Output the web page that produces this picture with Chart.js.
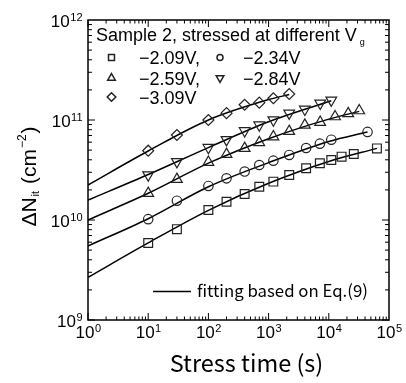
<!DOCTYPE html>
<html>
<head>
<meta charset="utf-8">
<script src="https://cdn.jsdelivr.net/npm/chart.js@4.4.1/dist/chart.umd.min.js"></script>
<style>
  body { margin: 0; background: #fff; }
</style>
</head>
<body>
<canvas id="chart" width="406" height="383"></canvas>
<script>
// measured interface traps, stress time (s) vs dNit (cm^-2)
const t209 = [10, 30, 100, 200, 400, 700, 1200, 2200, 4200, 7100, 11000, 16300, 26000, 63000];
const n209 = [5.9e9, 8.1e9, 1.26e10, 1.52e10, 1.82e10, 2.15e10, 2.42e10, 2.82e10, 3.29e10, 3.69e10, 3.98e10, 4.3e10, 4.58e10, 5.2e10];

const t234 = [10, 30, 100, 200, 400, 700, 1200, 2200, 4200, 7100, 11000, 44000];
const n234 = [1.02e10, 1.56e10, 2.19e10, 2.61e10, 3.05e10, 3.55e10, 3.92e10, 4.47e10, 5.25e10, 5.8e10, 6.35e10, 7.6e10];

const t259 = [10, 30, 100, 200, 400, 700, 1200, 2200, 4000, 7200, 12700, 21000, 32000];
const n259 = [1.85e10, 2.55e10, 3.78e10, 4.54e10, 5.21e10, 5.95e10, 6.8e10, 7.7e10, 8.9e10, 9.5e10, 1.08e11, 1.16e11, 1.24e11];

const t284 = [10, 30, 100, 200, 400, 700, 1200, 2200, 4000, 7200, 11000];
const n284 = [2.82e10, 3.83e10, 5.3e10, 6.35e10, 7.8e10, 8.9e10, 1.0e11, 1.17e11, 1.28e11, 1.47e11, 1.58e11];

const t309 = [10, 30, 100, 200, 400, 700, 1200, 2200];
const n309 = [4.93e10, 7.08e10, 1.0e11, 1.17e11, 1.42e11, 1.49e11, 1.65e11, 1.82e11];

// fitted curves (Eq.9)
const fitT209 = [1, 10, 100, 1000, 10000, 63000];
const fitN209 = [2.67e9, 5.9e9, 1.25e10, 2.33e10, 3.85e10, 5.2e10];
const fitT234 = [1, 10, 100, 1000, 10000, 44000];
const fitN234 = [5.5e9, 1.03e10, 2.15e10, 3.75e10, 6.1e10, 7.6e10];
const fitT259 = [1, 10, 100, 1000, 10000, 32000];
const fitN259 = [1.0e10, 1.85e10, 3.7e10, 6.5e10, 1.02e11, 1.22e11];
const fitT284 = [1, 10, 100, 1000, 11000];
const fitN284 = [1.58e10, 2.85e10, 5.3e10, 9.6e10, 1.56e11];
const fitT309 = [1, 10, 100, 1000, 2200];
const fitN309 = [2.24e10, 4.9e10, 1.0e11, 1.6e11, 1.8e11];

const seriesLabels = ['\u22122.09V,', '\u22122.34V', '\u22122.59V,', '\u22122.84V', '\u22123.09V'];
const xTickExp = [0, 1, 2, 3, 4, 5];
const yTickExp = [9, 10, 11, 12];

const pts = (xs, ys) => xs.map((x, i) => ({x: x, y: ys[i]}));

function markers(xs, ys, style, radius, rotation) {
  return {
    data: pts(xs, ys),
    showLine: false,
    pointStyle: style,
    pointRadius: radius,
    pointRotation: rotation || 0,
    pointBorderColor: '#222',
    pointBackgroundColor: 'rgba(0,0,0,0)',
    pointBorderWidth: 1.2
  };
}

function fit(xs, ys) {
  return {
    data: pts(xs, ys),
    showLine: true,
    borderColor: '#000',
    borderWidth: 1.5,
    pointRadius: 0,
    cubicInterpolationMode: 'monotone'
  };
}

const markerStyles = [
  ['rect', 6.2, 0], ['circle', 4.7, 0], ['triangle', 6.2, 0], ['triangle', 6.2, 180], ['rectRot', 5.5, 0]
];

const frame = {
  id: 'frame',
  afterDraw(chart) {
    const ctx = chart.ctx;
    const a = chart.chartArea;
    const x = chart.scales.x, y = chart.scales.y;
    ctx.save();
    ctx.strokeStyle = '#000';
    ctx.lineWidth = 1;
    ctx.beginPath();
    // log ticks on all four sides, pointing inwards
    for (let e = 0; e < 5; e++) {
      for (let k = 1; k < 10; k++) {
        const px = x.getPixelForValue(k * Math.pow(10, e));
        const len = k === 1 ? 7 : 3.5;
        ctx.moveTo(px, a.bottom); ctx.lineTo(px, a.bottom - len);
        ctx.moveTo(px, a.top); ctx.lineTo(px, a.top + len);
      }
    }
    for (let e = 9; e < 12; e++) {
      for (let k = 1; k < 10; k++) {
        const py = y.getPixelForValue(k * Math.pow(10, e));
        const len = k === 1 ? 7 : 4;
        ctx.moveTo(a.left, py); ctx.lineTo(a.left + len, py);
        ctx.moveTo(a.right, py); ctx.lineTo(a.right - len, py);
      }
    }
    ctx.stroke();
    ctx.lineWidth = 1.5;
    ctx.strokeRect(a.left, a.top, a.right - a.left, a.bottom - a.top);

    // tick labels 10^n
    ctx.fillStyle = '#000';
    ctx.textBaseline = 'alphabetic';
    ctx.textAlign = 'left';
    const big = '17px "Liberation Sans", Arial, sans-serif';
    const small = '11px "Liberation Sans", Arial, sans-serif';
    const legendFont = '18px "Liberation Sans", Arial, sans-serif';
    xTickExp.forEach(n => {
      const px = x.getPixelForValue(Math.pow(10, n));
      ctx.font = big; const w1 = ctx.measureText('10').width;
      ctx.font = small; const w2 = ctx.measureText(String(n)).width;
      const left = px - (w1 + w2) / 2;
      ctx.font = big; ctx.fillText('10', left, 338);
      ctx.font = small; ctx.fillText(String(n), left + w1 + 0.5, 332);
    });
    yTickExp.forEach(n => {
      const py = y.getPixelForValue(Math.pow(10, n));
      ctx.font = small; const w2 = ctx.measureText(String(n)).width;
      ctx.font = big; const w1 = ctx.measureText('10').width;
      const left = 82 - w1 - w2;
      ctx.fillText('10', left, py + 7);
      ctx.font = small; ctx.fillText(String(n), left + w1 + 0.5, py + 1);
    });

    // x axis title
    ctx.font = '23.5px "Noto Sans CJK JP", sans-serif';
    ctx.textAlign = 'center';
    ctx.fillText('Stress time (s)', 246.5, 372);

    // y axis title, rotated
    ctx.save();
    ctx.translate(36, 176);
    ctx.rotate(-Math.PI / 2);
    const parts = [
      ['\u0394N', '21px "Liberation Sans", Arial, sans-serif', 0],
      ['it', '11px "Liberation Sans", Arial, sans-serif', 3],
      [' (cm', '21px "Liberation Sans", Arial, sans-serif', 0],
      ['\u22122', '12px "Liberation Sans", Arial, sans-serif', -10],
      [')', '21px "Liberation Sans", Arial, sans-serif', 0]
    ];
    let total = 0;
    parts.forEach(p => { ctx.font = p[1]; total += ctx.measureText(p[0]).width + 1; });
    let cx = -total / 2;
    ctx.textAlign = 'left';
    parts.forEach(p => {
      ctx.font = p[1];
      ctx.fillText(p[0], cx, p[2]);
      cx += ctx.measureText(p[0]).width + 1;
    });
    ctx.restore();

    // legend box inside the plot
    ctx.textAlign = 'left';
    ctx.font = legendFont;
    ctx.fillText('Sample 2, stressed at different V', 96, 41);
    const vw = ctx.measureText('Sample 2, stressed at different V').width;
    ctx.font = '9px "Liberation Sans", Arial, sans-serif';
    ctx.fillText('g', 96 + vw + 3, 45);

    const rows = [[57.5, 64], [78, 84.5], [97, 103.5]];
    const slots = [[0, 0], [0, 1], [1, 0], [1, 1], [2, 0]];
    const legendRadius = [4.2, 3, 4.4, 4.4, 4.3];
    slots.forEach((s, i) => {
      const row = rows[s[0]];
      const mx = s[1] === 0 ? 111.5 : 220;
      const tx = s[1] === 0 ? 139 : 243;
      ctx.strokeStyle = '#222';
      ctx.fillStyle = 'rgba(0,0,0,0)';
      Chart.helpers.drawPoint(ctx, {
        pointStyle: markerStyles[i][0],
        radius: legendRadius[i],
        rotation: markerStyles[i][2],
        borderWidth: 1
      }, mx, row[0]);
      ctx.fillStyle = '#000';
      ctx.font = legendFont;
      ctx.fillText(seriesLabels[i], tx, row[1]);
    });

    // fitting legend entry
    ctx.lineWidth = 1.5;
    ctx.strokeStyle = '#000';
    ctx.beginPath();
    ctx.moveTo(153, 291.5); ctx.lineTo(191, 291.5);
    ctx.stroke();
    ctx.font = '16.8px "Noto Sans CJK JP", sans-serif';
    ctx.fillText('fitting based on Eq.(9)', 197, 297);
    ctx.restore();
  }
};

const ctx = document.getElementById('chart');
new Chart(ctx, {
  type: 'scatter',
  data: {
    datasets: [
      markers(t209, n209, 'rect', 6.2),
      markers(t234, n234, 'circle', 4.7),
      markers(t259, n259, 'triangle', 6.2),
      markers(t284, n284, 'triangle', 6.2, 180),
      markers(t309, n309, 'rectRot', 5.5),
      fit(fitT209, fitN209),
      fit(fitT234, fitN234),
      fit(fitT259, fitN259),
      fit(fitT284, fitN284),
      fit(fitT309, fitN309)
    ]
  },
  options: {
    responsive: false,
    animation: false,
    layout: { padding: { left: 88, right: 17, top: 20, bottom: 63 } },
    plugins: { legend: { display: false }, tooltip: { enabled: false } },
    scales: {
      x: { type: 'logarithmic', min: 1, max: 100000, display: false },
      y: { type: 'logarithmic', min: 1e9, max: 1e12, display: false }
    }
  },
  plugins: [frame]
});
</script>
</body>
</html>
